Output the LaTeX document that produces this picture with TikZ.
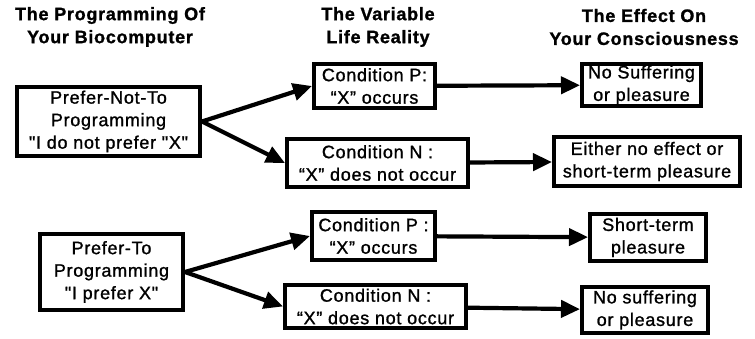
\documentclass[tikz,border=0pt]{standalone}
\usepackage{fontspec}
\setmainfont{Liberation Sans}[LetterSpace=4, Ligatures=TeXOff, FakeBold=1.2]
\usetikzlibrary{arrows.meta}

\begin{document}
\begin{tikzpicture}[x=1pt, y=-1pt,
  box/.style={draw, line width=4pt, align=center, inner sep=0pt,
    font=\fontsize{18}{22.5}\selectfont},
  head/.style={align=center, font=\fontsize{18}{23}\selectfont\bfseries},
  link/.style={->, line width=4.2pt},
  >={Triangle[length=19pt, width=17pt]}]
\useasboundingbox (0,0) rectangle (755,339);
\node[head] (hprog) at (110,27) {The Programming Of\\Your Biocomputer};
\node[head] (hlife) at (378,27) {The Variable\\Life Reality};
\node[head] (heff) at (644,27) {The Effect On\\Your Consciousness};
\node[box, minimum width=183pt, minimum height=69pt] (notto) at (108.5,121.5) {Prefer-Not-To\\Programming\\"I do not prefer "X"};
\node[box, minimum width=121pt, minimum height=44pt] (p1) at (374.5,86) {Condition P:\\“X” occurs};
\node[box, minimum width=181pt, minimum height=48pt] (n1) at (377.5,163) {Condition N :\\“X” does not occur};
\node[box, minimum width=119pt, minimum height=42pt] (e1) at (641.5,85) {No Suffering\\or pleasure};
\node[box, minimum width=186pt, minimum height=49pt] (e2) at (647,161.5) {Either no effect or\\short-term pleasure};
\node[box, minimum width=143pt, minimum height=76pt] (to) at (111.5,272) {Prefer-To\\Programming\\"I prefer X"};
\node[box, minimum width=123pt, minimum height=48pt] (p2) at (373.5,236) {Condition P :\\“X” occurs};
\node[box, minimum width=181pt, minimum height=43pt] (n2) at (375.5,306.5) {Condition N :\\“X” does not occur};
\node[box, minimum width=116pt, minimum height=47pt] (e3) at (648,237.5) {Short-term\\pleasure};
\node[box, minimum width=126pt, minimum height=46pt] (e4) at (645,310) {No suffering\\or pleasure};
\draw[link] (notto.east) -- (p1.west);
\draw[link] (notto.east) -- (n1.west);
\draw[link] (p1) -- (e1);
\draw[link] (n1) -- (e2);
\draw[link] (to.east) -- (p2.west);
\draw[link] (to.east) -- (n2.west);
\draw[link] (p2) -- (e3);
\draw[link] (n2) -- (e4);
\end{tikzpicture}
\end{document}
